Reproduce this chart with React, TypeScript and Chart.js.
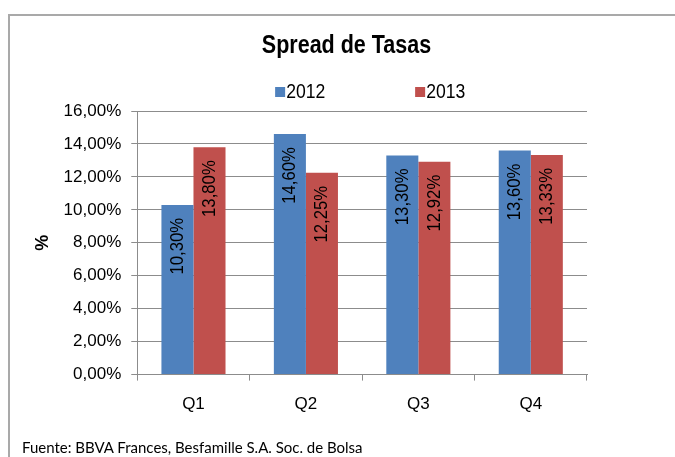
import React, { useEffect, useRef } from "react";
import { Chart, registerables } from "chart.js";

Chart.register(...registerables);

const categories = ["Q1", "Q2", "Q3", "Q4"];
const seriesNames = ["2012", "2013"];
const values2012 = [10.3, 14.6, 13.3, 13.6];
const values2013 = [13.8, 12.25, 12.92, 13.33];
const seriesColors = ["#4F81BD", "#C0504D"];
const yTicksMin = 0;
const yTicksMax = 16;
const yTickStep = 2;
const titleText = "Spread de Tasas";
const yAxisTitle = "%";
const footerText = "Fuente: BBVA Frances, Besfamille S.A. Soc. de Bolsa";

const FONT = "'Liberation Sans', Arial, sans-serif";
const fmt = (v: number) => v.toFixed(2).replace(".", ",") + "%";

const valueLabelPlugin = {
  id: "valueLabels",
  afterDatasetsDraw(chart: any) {
    const ctx = chart.ctx;
    ctx.save();
    ctx.font = `19px ${FONT}`;
    ctx.fillStyle = "#000";
    ctx.textAlign = "right";
    ctx.textBaseline = "middle";
    chart.data.datasets.forEach((ds: any, di: number) => {
      const meta = chart.getDatasetMeta(di);
      meta.data.forEach((bar: any, i: number) => {
        ctx.save();
        ctx.translate(bar.x, bar.y + 13);
        ctx.rotate(-Math.PI / 2);
        ctx.scale(0.88, 1);
        ctx.fillText(fmt(ds.data[i]), 0, 0);
        ctx.restore();
      });
    });
    ctx.restore();
  },
};

const titleLegendPlugin = {
  id: "titleLegend",
  afterDraw(chart: any) {
    const ctx = chart.ctx;
    const area = chart.chartArea;
    ctx.save();
    ctx.fillStyle = "#000";
    ctx.textAlign = "center";
    ctx.textBaseline = "middle";
    ctx.save();
    ctx.translate(chart.width / 2 + 9, 46);
    ctx.scale(0.86, 1);
    ctx.font = `bold 25px ${FONT}`;
    ctx.fillText(titleText, 0, 0);
    ctx.restore();
    const cx = (area.left + area.right) / 2;
    const y = area.top - 19;
    const offsets = [-87, 53];
    ctx.font = `20px ${FONT}`;
    ctx.textAlign = "left";
    chart.data.datasets.forEach((ds: any, i: number) => {
      const x = cx + offsets[i];
      ctx.fillStyle = ds.backgroundColor;
      ctx.fillRect(x, y - 5, 10, 10);
      ctx.fillStyle = "#000";
      ctx.save();
      ctx.translate(x + 11, y);
      ctx.scale(0.88, 1);
      ctx.fillText(ds.label, 0, 0);
      ctx.restore();
    });
    ctx.restore();
  },
};

export default function App() {
  const canvasRef = useRef<HTMLCanvasElement | null>(null);

  useEffect(() => {
    if (!canvasRef.current) return;
    const chart = new Chart(canvasRef.current, {
      type: "bar",
      data: {
        labels: categories,
        datasets: [
          {
            label: seriesNames[0],
            data: values2012,
            backgroundColor: seriesColors[0],
            categoryPercentage: 0.57,
            barPercentage: 1,
          },
          {
            label: seriesNames[1],
            data: values2013,
            backgroundColor: seriesColors[1],
            categoryPercentage: 0.57,
            barPercentage: 1,
          },
        ],
      },
      options: {
        animation: false,
        responsive: false,
        maintainAspectRatio: false,
        layout: { padding: { top: 111, left: 24, right: 88, bottom: 28 } },
        plugins: {
          legend: { display: false },
          tooltip: { enabled: false },
          title: { display: false },
        },
        scales: {
          x: {
            grid: {
              display: true,
              drawOnChartArea: false,
              drawTicks: true,
              tickLength: 6,
              color: "#8c8c8c",
              offset: true,
            },
            border: { display: true, color: "#8c8c8c" },
            ticks: {
              color: "#000",
              padding: 14,
              font: { family: FONT, size: 17 },
            },
          },
          y: {
            min: yTicksMin,
            max: yTicksMax,
            ticks: {
              stepSize: yTickStep,
              color: "#000",
              padding: 10,
              font: { family: FONT, size: 17 },
              callback: (v: any) => fmt(Number(v)),
            },
            grid: { color: "#8c8c8c", tickLength: 6 },
            border: { display: true, color: "#8c8c8c" },
            title: {
              display: true,
              text: yAxisTitle,
              color: "#000",
              font: { family: FONT, size: 18, weight: "bold" },
              padding: { top: 8, bottom: 0 },
            },
          },
        },
      },
      plugins: [valueLabelPlugin, titleLegendPlugin],
    });
    return () => chart.destroy();
  }, []);

  return (
    <div
      style={{
        position: "fixed",
        left: 0,
        top: 0,
        width: 675,
        height: 457,
        overflow: "hidden",
        background: "#fff",
      }}
    >
      <div
        style={{
          position: "absolute",
          left: 8,
          top: 14,
          width: 800,
          height: 600,
          borderLeft: "2px solid #a9a9a9",
          borderTop: "2px solid #a9a9a9",
        }}
      />
      <canvas
        ref={canvasRef}
        width={675}
        height={457}
        style={{ position: "absolute", left: 0, top: 0, width: 675, height: 457 }}
      />
      <div
        style={{
          position: "absolute",
          left: 22,
          top: 437,
          fontFamily: "Lato, sans-serif",
          fontSize: 15,
          color: "#000",
          whiteSpace: "nowrap",
          lineHeight: "20px",
        }}
      >
        {footerText}
      </div>
    </div>
  );
}
